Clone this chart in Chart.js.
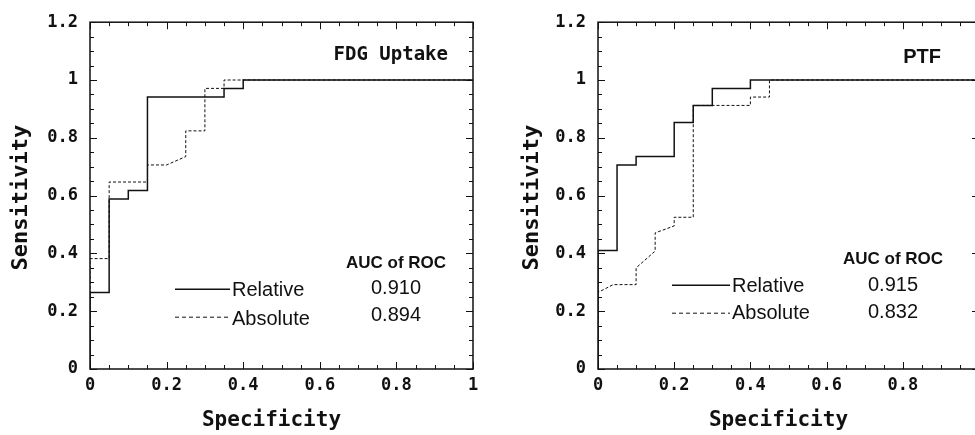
<!DOCTYPE html>
<html>
<head>
<meta charset="utf-8">
<script src="https://cdn.jsdelivr.net/npm/chart.js@4.4.1/dist/chart.umd.min.js"></script>
<style>
  html,body{margin:0;padding:0;background:#fff;overflow:hidden;width:975px;height:435px;}
  canvas{position:absolute;top:0;}
  #fdg{left:0;}
  #ptf{left:490px;}
</style>
</head>
<body>
<canvas id="fdg" width="490" height="435"></canvas>
<canvas id="ptf" width="510" height="435"></canvas>
<script>
// ROC step curves: vertices (x = specificity axis, y = sensitivity)
const fdgRelX = [0, 0,     0.05,  0.05,  0.10,  0.10,  0.15,  0.15,  0.35,  0.35,  0.40,  0.40, 1.00];
const fdgRelY = [0, 0.265, 0.265, 0.588, 0.588, 0.618, 0.618, 0.941, 0.941, 0.971, 0.971, 1.00, 1.00];
const fdgAbsX = [0, 0,     0.05,  0.05,  0.15,  0.15,  0.20,  0.25,  0.25,  0.30,  0.30,  0.35,  0.35, 1.00];
const fdgAbsY = [0, 0.382, 0.382, 0.647, 0.647, 0.706, 0.706, 0.735, 0.824, 0.824, 0.971, 0.971, 1.00, 1.00];

const ptfRelX = [0, 0,     0.05,  0.05,  0.10,  0.10,  0.20,  0.20,  0.25,  0.25,  0.30,  0.30,  0.40,  0.40, 1.00];
const ptfRelY = [0, 0.410, 0.410, 0.706, 0.706, 0.735, 0.735, 0.853, 0.853, 0.912, 0.912, 0.971, 0.971, 1.00, 1.00];
const ptfAbsX = [0, 0,     0.04,  0.10,  0.10,  0.15,  0.15,  0.20,  0.20,  0.25,  0.25,  0.40,  0.40,  0.45,  0.45, 1.00];
const ptfAbsY = [0, 0.265, 0.292, 0.292, 0.350, 0.408, 0.471, 0.495, 0.525, 0.525, 0.912, 0.912, 0.941, 0.941, 1.00, 1.00];

const seriesNames = ['Relative', 'Absolute'];
const fdgAuc = ['0.910', '0.894'];
const ptfAuc = ['0.915', '0.832'];

const xTickLabels = ['0', '0.2', '0.4', '0.6', '0.8', '1'];
const yTickLabels = ['0', '0.2', '0.4', '0.6', '0.8', '1', '1.2'];

const MONO = '"DejaVu Sans Mono", monospace';
const SANS = '"Liberation Sans", Arial, sans-serif';
const INK = '#111';

function zip(xs, ys){ return xs.map((x, i) => ({x, y: ys[i]})); }

// frame, inside tick marks, panel label, AUC table and key
const rocDecor = {
  id: 'rocDecor',
  afterDraw(chart, args, o){
    const {ctx, chartArea: ca, scales: {x, y}} = chart;
    ctx.save();
    ctx.strokeStyle = INK;
    ctx.lineWidth = 1.5;
    ctx.strokeRect(ca.left, ca.top, ca.right - ca.left, ca.bottom - ca.top);

    ctx.lineWidth = 1;
    ctx.beginPath();
    for(let i = 0; i <= 20; i++){
      const px = Math.round(x.getPixelForValue(i * 0.05)) + 0.5;
      const len = i % 4 === 0 ? 7 : 4;
      ctx.moveTo(px, ca.bottom); ctx.lineTo(px, ca.bottom - len);
      ctx.moveTo(px, ca.top); ctx.lineTo(px, ca.top + len);
    }
    for(let i = 0; i <= 24; i++){
      const py = Math.round(y.getPixelForValue(i * 0.05)) + 0.5;
      const len = i % 4 === 0 ? 7 : 4;
      ctx.moveTo(ca.left, py); ctx.lineTo(ca.left + len, py);
      ctx.moveTo(ca.right, py); ctx.lineTo(ca.right - len, py);
    }
    ctx.stroke();

    ctx.fillStyle = INK;
    // axis titles
    ctx.textAlign = 'center';
    ctx.textBaseline = 'middle';
    ctx.font = 'bold 21px ' + MONO;
    ctx.fillText('Specificity', (ca.left + ca.right) / 2 + o.specDx, 421);
    ctx.save();
    ctx.translate(ca.left + o.sensDx, (ca.top + ca.bottom) / 2 + 2);
    ctx.rotate(-Math.PI / 2);
    ctx.font = 'bold 22px ' + MONO;
    ctx.fillText('Sensitivity', 0, 0);
    ctx.restore();

    // panel label
    ctx.textBaseline = 'alphabetic';
    ctx.textAlign = 'right';
    ctx.font = o.nameFont;
    ctx.fillText(o.name, ca.right + o.nameDx, ca.top + o.nameDy);

    // AUC table
    ctx.textAlign = 'center';
    ctx.font = 'bold 17px ' + SANS;
    ctx.fillText('AUC of ROC', ca.left + o.aucX, ca.top + o.aucHeadY);
    ctx.font = '20px ' + SANS;
    o.auc.forEach((v, i) => ctx.fillText(v, ca.left + o.aucX, ca.top + o.aucY[i]));

    // key
    ctx.textAlign = 'left';
    seriesNames.forEach((name, i) => {
      const ly = ca.top + o.rowY[i];
      ctx.beginPath();
      ctx.lineWidth = i === 0 ? 1.5 : 1;
      ctx.setLineDash(i === 0 ? [] : [4, 3]);
      ctx.moveTo(ca.left + o.keyX, ly);
      ctx.lineTo(ca.left + o.keyX + o.keyW, ly);
      ctx.stroke();
      ctx.setLineDash([]);
      ctx.fillText(name, ca.left + o.keyX + o.keyW + 2, ly + o.textDy[i]);
    });
    ctx.restore();
  }
};

function makeChart(id, rel, abs, pad, yWidth, decor){
  return new Chart(document.getElementById(id), {
    type: 'scatter',
    data: {
      datasets: [
        { label: seriesNames[0], data: rel, showLine: true, borderColor: INK, borderWidth: 1.5,
          pointRadius: 0, tension: 0 },
        { label: seriesNames[1], data: abs, showLine: true, borderColor: INK, borderWidth: 1,
          borderDash: [3, 2], pointRadius: 0, tension: 0 }
      ]
    },
    options: {
      responsive: false,
      animation: false,
      layout: { padding: pad },
      plugins: { legend: { display: false }, tooltip: { enabled: false }, rocDecor: decor },
      scales: {
        x: {
          type: 'linear', min: 0, max: 1,
          grid: { display: false, drawTicks: false },
          border: { display: false },
          ticks: { stepSize: 0.2, autoSkip: false, maxRotation: 0, padding: 6, color: INK,
                   font: { family: MONO, size: 17, weight: 'bold' },
                   callback: (v, i) => xTickLabels[i] },
          afterFit: s => { s.height = 66; }
        },
        y: {
          type: 'linear', min: 0, max: 1.2,
          grid: { display: false, drawTicks: false },
          border: { display: false },
          ticks: { stepSize: 0.2, autoSkip: false, padding: 12, color: INK,
                   font: { family: MONO, size: 17, weight: 'bold' },
                   callback: (v, i) => yTickLabels[i] },
          afterFit: s => { s.width = yWidth; }
        }
      }
    },
    plugins: [rocDecor]
  });
}

makeChart('fdg', zip(fdgRelX, fdgRelY), zip(fdgAbsX, fdgAbsY),
  { top: 19, right: 17, left: 0, bottom: 0 }, 90,
  { name: 'FDG Uptake', nameFont: 'bold 19px ' + MONO, nameDx: -25, nameDy: 37.5,
    auc: fdgAuc, aucX: 306, aucHeadY: 246, aucY: [271.5, 299],
    keyX: 85, keyW: 55, rowY: [267, 295], textDy: [7, 7.5],
    sensDx: -69, specDx: -10 });

makeChart('ptf', zip(ptfRelX, ptfRelY), zip(ptfAbsX, ptfAbsY),
  { top: 19, right: 21, left: 0, bottom: 0 }, 108,
  { name: 'PTF', nameFont: 'bold 20px ' + SANS, nameDx: -38, nameDy: 41,
    auc: ptfAuc, aucX: 295, aucHeadY: 242, aucY: [269, 296],
    keyX: 74, keyW: 58, rowY: [263, 291], textDy: [6.5, 6],
    sensDx: -66, specDx: -10 });
</script>
</body>
</html>
